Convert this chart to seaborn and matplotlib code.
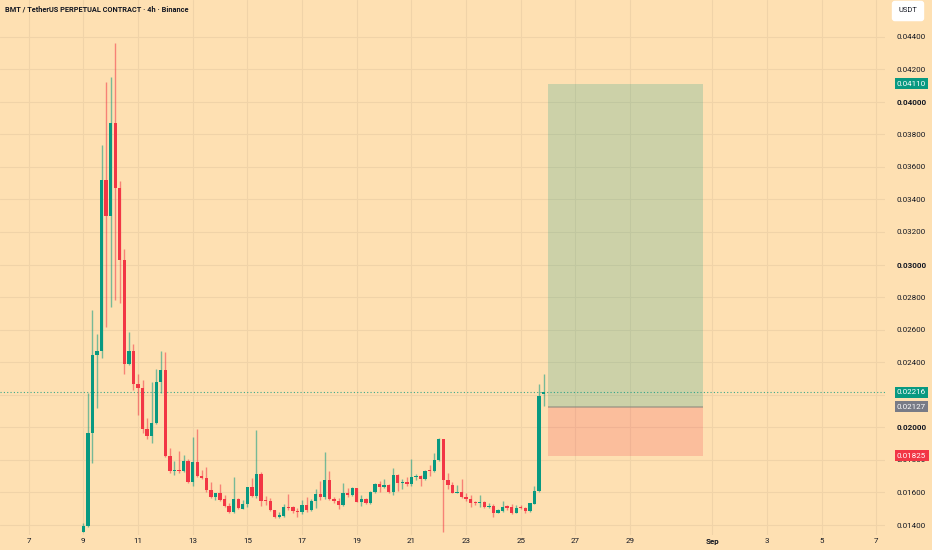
import numpy as np
import pandas as pd
import matplotlib
matplotlib.use('Agg')
import matplotlib.pyplot as plt
import matplotlib.dates as mdates
import seaborn as sns

# 4h candles, starting Aug 9 00:00
opens = [0.01360, 0.01396, 0.01967, 0.02444, 0.02471, 0.03519, 0.03298, 0.03868, 0.03472, 0.03028,
         0.02389, 0.02469, 0.02266, 0.02243, 0.01988, 0.01947, 0.02025, 0.02280, 0.02352, 0.01826,
         0.01730, 0.01736, 0.01730, 0.01793, 0.01666, 0.01789, 0.01701, 0.01687, 0.01615, 0.01574,
         0.01595, 0.01558, 0.01517, 0.01482, 0.01560, 0.01500, 0.01531, 0.01632, 0.01578, 0.01711,
         0.01549, 0.01547, 0.01492, 0.01451, 0.01455, 0.01509, 0.01509, 0.01488, 0.01480, 0.01523,
         0.01492, 0.01549, 0.01590, 0.01574, 0.01674, 0.01558, 0.01547, 0.01523, 0.01595, 0.01585,
         0.01625, 0.01543, 0.01558, 0.01533, 0.01605, 0.01650, 0.01635, 0.01646, 0.01605, 0.01707,
         0.01660, 0.01662, 0.01652, 0.01697, 0.01699, 0.01684, 0.01738, 0.01732, 0.01800, 0.01926,
         0.01676, 0.01646, 0.01598, 0.01603, 0.01574, 0.01558, 0.01543, 0.01537, 0.01543, 0.01512,
         0.01519, 0.01476, 0.01488, 0.01517, 0.01512, 0.01476, 0.01512, 0.01506, 0.01486, 0.01529,
         0.01611, 0.02202]
highs = [0.01410, 0.02213, 0.02721, 0.02573, 0.03734, 0.04123, 0.04150, 0.04359, 0.03513, 0.03095,
         0.02587, 0.02510, 0.02326, 0.02291, 0.02055, 0.02280, 0.02356, 0.02471, 0.02465, 0.01875,
         0.01793, 0.01855, 0.01830, 0.01804, 0.01942, 0.01990, 0.01738, 0.01758, 0.01662, 0.01597,
         0.01652, 0.01584, 0.01533, 0.01693, 0.01564, 0.01551, 0.01632, 0.01691, 0.01983, 0.01727,
         0.01578, 0.01564, 0.01492, 0.01482, 0.01529, 0.01590, 0.01517, 0.01506, 0.01554, 0.01574,
         0.01557, 0.01619, 0.01670, 0.01848, 0.01734, 0.01570, 0.01564, 0.01660, 0.01625, 0.01635,
         0.01629, 0.01584, 0.01564, 0.01611, 0.01656, 0.01672, 0.01680, 0.01650, 0.01748, 0.01713,
         0.01680, 0.01697, 0.01805, 0.01713, 0.01707, 0.01738, 0.01768, 0.01841, 0.01934, 0.01930,
         0.01718, 0.01666, 0.01646, 0.01681, 0.01599, 0.01584, 0.01549, 0.01584, 0.01547, 0.01533,
         0.01529, 0.01496, 0.01547, 0.01523, 0.01529, 0.01523, 0.01523, 0.01512, 0.01537, 0.01640,
         0.02266, 0.02328]
lows = [0.01355, 0.01390, 0.01779, 0.02117, 0.02424, 0.02617, 0.02740, 0.02781, 0.02766, 0.02328,
        0.02380, 0.02229, 0.02076, 0.01963, 0.01926, 0.01906, 0.02020, 0.02209, 0.01820, 0.01718,
        0.01707, 0.01720, 0.01725, 0.01656, 0.01641, 0.01695, 0.01680, 0.01605, 0.01565, 0.01555,
        0.01545, 0.01513, 0.01476, 0.01472, 0.01500, 0.01496, 0.01512, 0.01570, 0.01564, 0.01517,
        0.01523, 0.01488, 0.01441, 0.01445, 0.01447, 0.01494, 0.01476, 0.01451, 0.01470, 0.01482,
        0.01486, 0.01502, 0.01556, 0.01558, 0.01554, 0.01533, 0.01497, 0.01517, 0.01574, 0.01580,
        0.01539, 0.01517, 0.01527, 0.01529, 0.01599, 0.01605, 0.01625, 0.01599, 0.01584, 0.01611,
        0.01621, 0.01640, 0.01640, 0.01674, 0.01640, 0.01676, 0.01699, 0.01728, 0.01796, 0.01359,
        0.01619, 0.01594, 0.01594, 0.01564, 0.01545, 0.01512, 0.01523, 0.01512, 0.01506, 0.01502,
        0.01451, 0.01472, 0.01482, 0.01492, 0.01466, 0.01472, 0.01496, 0.01476, 0.01482, 0.01527,
        0.01605, 0.02131]
closes = [0.01396, 0.01967, 0.02444, 0.02471, 0.03519, 0.03298, 0.03868, 0.03472, 0.03028, 0.02389,
          0.02469, 0.02266, 0.02243, 0.01988, 0.01947, 0.02025, 0.02280, 0.02352, 0.01826, 0.01732,
          0.01736, 0.01730, 0.01793, 0.01666, 0.01789, 0.01701, 0.01687, 0.01615, 0.01574, 0.01595,
          0.01554, 0.01517, 0.01482, 0.01560, 0.01506, 0.01531, 0.01632, 0.01578, 0.01711, 0.01549,
          0.01547, 0.01492, 0.01451, 0.01461, 0.01509, 0.01504, 0.01486, 0.01480, 0.01523, 0.01492,
          0.01549, 0.01590, 0.01574, 0.01674, 0.01558, 0.01547, 0.01523, 0.01595, 0.01585, 0.01625,
          0.01543, 0.01558, 0.01533, 0.01605, 0.01650, 0.01635, 0.01646, 0.01605, 0.01707, 0.01660,
          0.01666, 0.01652, 0.01697, 0.01701, 0.01684, 0.01732, 0.01732, 0.01800, 0.01926, 0.01676,
          0.01646, 0.01598, 0.01605, 0.01570, 0.01558, 0.01537, 0.01537, 0.01543, 0.01512, 0.01519,
          0.01476, 0.01492, 0.01512, 0.01502, 0.01476, 0.01506, 0.01506, 0.01486, 0.01533, 0.01611,
          0.02194, 0.02216]

last_price = 0.02216
entry_price = 0.02127
target_price = 0.04110
stop_price = 0.01825
box_start = '2025-08-26 00:00'
box_end = '2025-08-31 16:00'

price_ticks = [0.014, 0.016, 0.018, 0.020, 0.022, 0.024, 0.026, 0.028, 0.030,
               0.032, 0.034, 0.036, 0.038, 0.040, 0.042, 0.044]
hidden_ticks = [0.022]  # covered by the last-price tag
day_ticks = ['2025-08-07', '2025-08-09', '2025-08-11', '2025-08-13', '2025-08-15', '2025-08-17',
             '2025-08-19', '2025-08-21', '2025-08-23', '2025-08-25', '2025-08-27', '2025-08-29',
             '2025-09-01', '2025-09-03', '2025-09-05', '2025-09-07']
day_labels = ['7', '9', '11', '13', '15', '17', '19', '21', '23', '25', '27', '29',
              'Sep', '3', '5', '7']

title = 'BMT / TetherUS PERPETUAL CONTRACT · 4h · Binance'

bg = '#fee0b2'
up = '#089981'
down = '#f23645'
text_col = '#131722'

sns.set_theme(style='whitegrid', rc={'axes.facecolor': bg, 'figure.facecolor': bg,
                                     'grid.color': '#f0d3a8', 'grid.linewidth': 0.8})
plt.rcParams['font.family'] = ['Roboto', 'DejaVu Sans']

df = pd.DataFrame({'time': pd.date_range('2025-08-09 00:00', periods=len(opens), freq='4h'),
                   'open': opens, 'high': highs, 'low': lows, 'close': closes})
df['x'] = mdates.date2num(df['time'])
df['color'] = np.where(df['close'] >= df['open'], up, down)
df['bottom'] = df[['open', 'close']].min(axis=1)
df['height'] = (df['close'] - df['open']).abs().clip(lower=0.00005)

fig = plt.figure(figsize=(9.32, 5.5), dpi=100)
ax = fig.add_axes([0, 15 / 550, 885 / 932, 535 / 550])

# position tool (long): target and stop zones
bx = mdates.date2num(pd.to_datetime([box_start, box_end]))
ax.fill_between(bx, entry_price, target_price, color=up, alpha=0.2, lw=0, zorder=1)
ax.fill_between(bx, stop_price, entry_price, color=down, alpha=0.2, lw=0, zorder=1)
ax.hlines(entry_price, bx[0], bx[1], color='#8d8a7c', lw=1.1, alpha=0.7, zorder=2)

# candles
ax.vlines(df['x'], df['low'], df['high'], colors=df['color'], lw=1, alpha=0.55, zorder=3)
ax.bar(df['x'], df['height'], bottom=df['bottom'], width=2.9 / 24,
       color=df['color'], linewidth=0, zorder=4)

ax.axhline(last_price, color=up, ls=(0, (1, 2)), lw=0.8, alpha=0.8, zorder=2)

x0 = mdates.date2num(pd.Timestamp('2025-08-09'))
ax.set_xlim(x0 - 3.047, x0 + 29.32)
ax.set_ylim(0.013386, 0.046249)
for s in ax.spines.values():
    s.set_visible(False)

ax.set_xticks(mdates.date2num(pd.to_datetime(day_ticks)))
ax.set_xticklabels(day_labels)
ax.tick_params(axis='x', length=0, pad=2, labelsize=5.8, colors=text_col)
for lab in ax.get_xticklabels():
    if lab.get_text() == 'Sep':
        lab.set_fontweight('bold')

ax.yaxis.tick_right()
ax.set_yticks(price_ticks)
ax.set_yticklabels(['' if p in hidden_ticks else f'{p:.5f}' for p in price_ticks])
ax.tick_params(axis='y', length=0, pad=8.6, labelsize=5.8, colors=text_col)
for p, lab in zip(price_ticks, ax.get_yticklabels()):
    if round(p * 100, 6) == round(p * 100):
        lab.set_fontweight('bold')


def price_tag(price, color):
    ax.annotate(f'{price:.5f}', xy=(1, price), xycoords=('axes fraction', 'data'),
                xytext=(8.6, 0), textcoords='offset points', ha='left', va='center',
                fontsize=5.8, color='white', annotation_clip=False, zorder=10,
                bbox=dict(boxstyle='square,pad=0.3', fc=color, ec='none'))


price_tag(target_price, up)
price_tag(last_price, up)
price_tag(entry_price, '#787b86')
price_tag(stop_price, down)

fig.text(5 / 932, 1 - 10 / 550, title, fontsize=5.3, fontweight='bold',
         color=text_col, va='center', ha='left')
fig.text(908 / 932, 1 - 11 / 550, 'USDT', fontsize=5.4, color=text_col, va='center', ha='center',
         bbox=dict(boxstyle='round,pad=0.9,rounding_size=0.4', fc='white', ec='none'))

fig.savefig('out.png', dpi=100, facecolor=bg)
